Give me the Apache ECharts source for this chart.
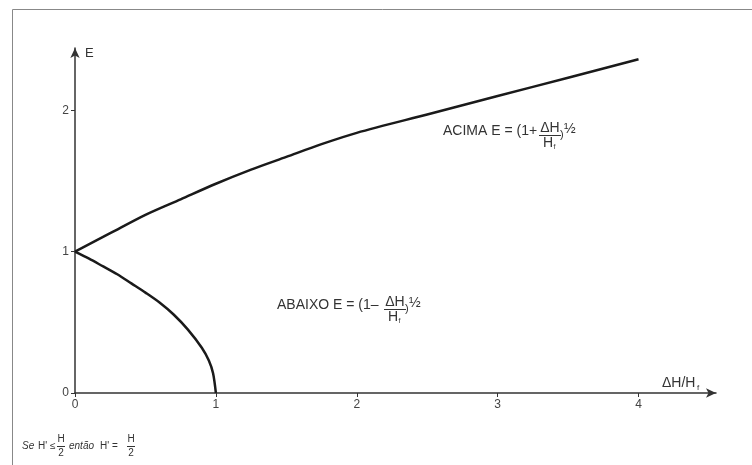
<!DOCTYPE html>
<html>
<head>
<meta charset="utf-8">
<script src="https://cdn.jsdelivr.net/npm/echarts@6/dist/echarts.min.js"></script>
<style>
html, body { margin: 0; padding: 0; background: #fff; }
#chart { width: 752px; height: 465px; }
</style>
</head>
<body>
<div id="chart"></div>
<script>
// curva de cima (ACIMA)
var acimaX = [0, 0.25, 0.5, 0.75, 1, 1.25, 1.5, 1.75, 2, 2.5, 3, 3.5, 4];
var acimaE = [1.00, 1.13, 1.26, 1.37, 1.48, 1.58, 1.67, 1.76, 1.84, 1.97, 2.10, 2.23, 2.36];
// curva de baixo (ABAIXO)
var abaixoX = [0, 0.1, 0.2, 0.3, 0.4, 0.5, 0.6, 0.7, 0.8, 0.9, 0.95, 0.98, 1];
var abaixoE = [1.00, 0.95, 0.895, 0.84, 0.775, 0.71, 0.64, 0.555, 0.45, 0.32, 0.23, 0.14, 0];
// marcas dos eixos
var xTicks = [0, 1, 2, 3, 4];
var yTicks = [0, 1, 2];

function pares(xs, ys) {
    var out = [];
    for (var i = 0; i < xs.length; i++) out.push([xs[i], ys[i]]);
    return out;
}

var fonte = '"Liberation Sans", Arial, sans-serif';
var cor = '#333';

function txt(t, x, y, size, extra) {
    var st = { text: t, fontSize: size, fontFamily: fonte, fill: cor, align: 'left', verticalAlign: 'middle' };
    for (var k in extra) st[k] = extra[k];
    return { type: 'text', x: x, y: y, style: st, z: 10 };
}
function barra(x1, x2, y) {
    return { type: 'line', shape: { x1: x1, y1: y, x2: x2, y2: y }, style: { stroke: cor, lineWidth: 1 }, z: 10 };
}

var eixo = {
    lineStyle: { color: '#333', width: 1.5 },
    symbol: ['none', 'arrow'],
    symbolSize: [7, 10]
};

var myChart = echarts.init(document.getElementById('chart'));
myChart.setOption({
    animation: false,
    grid: { left: 75, right: 36, top: 48, bottom: 72 },
    xAxis: {
        type: 'value', min: 0, max: 4.55, interval: 1,
        axisLine: eixo,
        axisTick: { show: true, length: 4, customValues: xTicks, lineStyle: { color: '#333' } },
        axisLabel: { customValues: xTicks, fontSize: 12, fontFamily: fonte, color: '#444', margin: 6 },
        splitLine: { show: false }
    },
    yAxis: {
        type: 'value', min: 0, max: 2.44, interval: 1,
        axisLine: eixo,
        axisTick: { show: true, length: 4, customValues: yTicks, lineStyle: { color: '#333' } },
        axisLabel: { customValues: yTicks, fontSize: 12, fontFamily: fonte, color: '#444', margin: 6 },
        splitLine: { show: false }
    },
    series: [
        {
            name: 'ACIMA', type: 'line', data: pares(acimaX, acimaE),
            smooth: 0.3, showSymbol: false,
            lineStyle: { color: '#1a1a1a', width: 2.5 }
        },
        {
            name: 'ABAIXO', type: 'line', data: pares(abaixoX, abaixoE),
            smooth: 0.3, showSymbol: false,
            lineStyle: { color: '#1a1a1a', width: 2.5 }
        }
    ],
    graphic: [
        { type: 'rect', shape: { x: 12.5, y: 9.5, width: 800, height: 520 }, style: { fill: 'none', stroke: '#888', lineWidth: 1 }, z: 1 },
        // nomes dos eixos
        txt('E', 85, 53, 13),
        txt('\u0394H/H', 662, 383, 14),
        txt('f', 697, 388, 8),
        // ACIMA
        txt('ACIMA E = (1+', 443, 131, 14),
        txt('\u0394H', 550, 128, 14, { align: 'center' }),
        barra(539, 561, 135.5),
        txt('H', 548, 143, 14, { align: 'center' }),
        txt('f', 553.5, 147, 7),
        txt(')', 560, 135, 11),
        txt('\u00bd', 564, 129, 14),
        // ABAIXO
        txt('ABAIXO E = (1\u2013', 277, 305, 14),
        txt('\u0394H', 395, 302, 14, { align: 'center' }),
        barra(384, 406, 309.5),
        txt('H', 393, 317, 14, { align: 'center' }),
        txt('f', 398.5, 321, 7),
        txt(')', 405, 309, 11),
        txt('\u00bd', 409, 303, 14),
        // nota
        txt('Se', 22, 446, 10, { fontStyle: 'italic' }),
        txt("H' \u2264", 38, 446, 10),
        txt('H', 61, 439, 10, { align: 'center' }),
        barra(57, 65, 446.5),
        txt('2', 61, 453, 10, { align: 'center' }),
        txt('ent\u00e3o', 69, 446, 10, { fontStyle: 'italic' }),
        txt("H' =", 100, 446, 10),
        txt('H', 131, 439, 10, { align: 'center' }),
        barra(127, 135, 446.5),
        txt('2', 131, 453, 10, { align: 'center' })
    ]
});
</script>
</body>
</html>
